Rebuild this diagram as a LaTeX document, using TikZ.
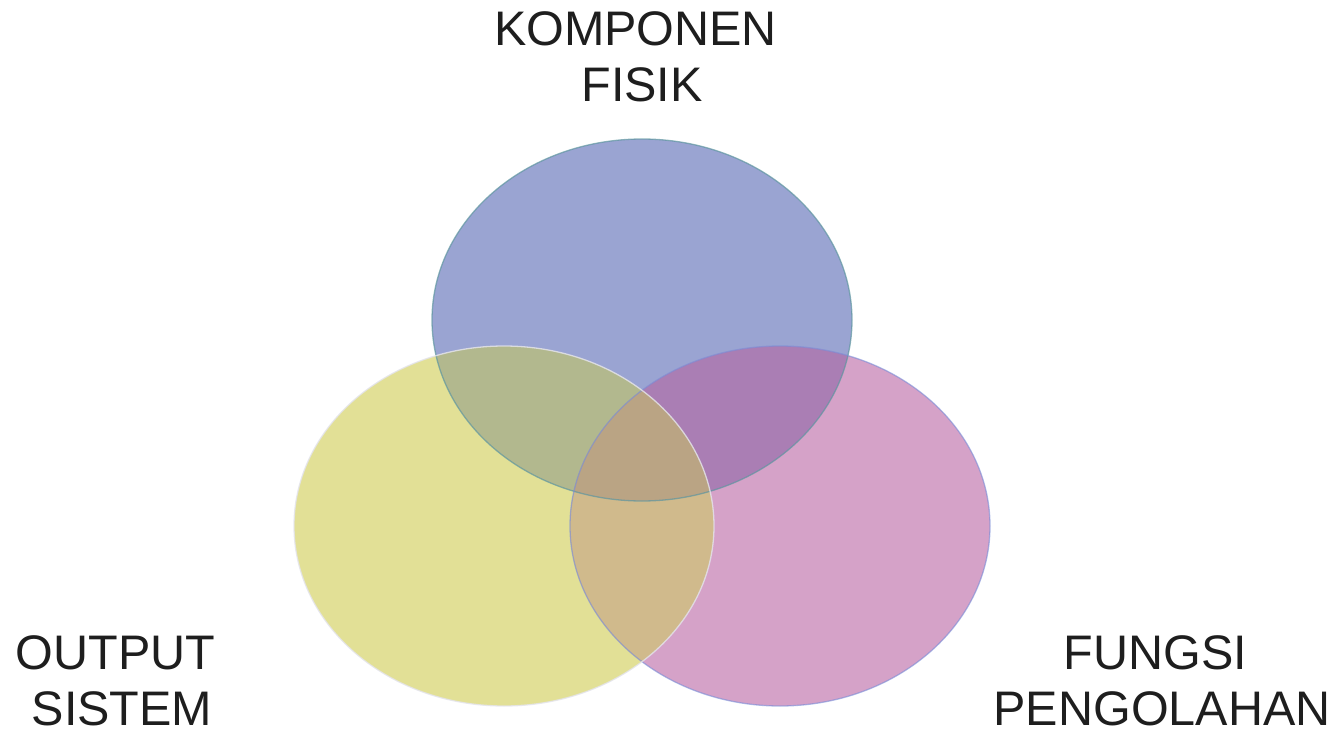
\documentclass[tikz,border=0pt]{standalone}
\usepackage{fontspec}
\setmainfont{Liberation Sans}
\definecolor{cB}{RGB}{154,164,210}
\definecolor{cY}{RGB}{226,224,150}
\definecolor{cP}{RGB}{213,162,200}
\definecolor{cBY}{RGB}{178,184,142}
\definecolor{cBP}{RGB}{170,126,180}
\definecolor{cYP}{RGB}{208,186,140}
\definecolor{cBYP}{RGB}{186,164,132}
\definecolor{eB}{RGB}{95,150,160}
\definecolor{eY}{RGB}{228,228,238}
\definecolor{eP}{RGB}{120,140,215}
\definecolor{txt}{RGB}{30,30,30}
\newcommand\ellTop{(642,320) ellipse [x radius=210pt, y radius=181pt]}
\newcommand\ellLeft{(504,526) ellipse [x radius=210pt, y radius=180pt]}
\newcommand\ellRight{(780,526) ellipse [x radius=210pt, y radius=180pt]}
\tikzset{
  lbl/.style={text=txt, font=\fontsize{48.5}{56}\selectfont, align=center, inner sep=0pt, anchor=north},
  rim/.style={line width=1.3pt}
}
\begin{document}
\begin{tikzpicture}[x=1pt,y=-1pt]
\useasboundingbox (0,0) rectangle (1342,730);
% solid regions
\fill[cB] \ellTop;
\fill[cY] \ellLeft;
\fill[cP] \ellRight;
\begin{scope}
  \clip \ellTop;
  \fill[cBY] \ellLeft;
  \fill[cBP] \ellRight;
\end{scope}
\begin{scope}
  \clip \ellLeft;
  \fill[cYP] \ellRight;
  \clip \ellRight;
  \fill[cBYP] \ellTop;
\end{scope}
% rims
\draw[rim, eB, opacity=0.7] \ellTop;
\draw[rim, eP, opacity=0.6] \ellRight;
\draw[rim, eY, opacity=0.8] \ellLeft;
% labels
\node[lbl] (komp) at (642,11) {KOMPONEN\hspace*{13pt}\\FISIK};
\node[lbl] (out) at (122,635) {OUTPUT\hspace*{13pt}\\SISTEM};
\node[lbl] (fung) at (1162,635) {FUNGSI\hspace*{13pt}\\PENGOLAHAN};
\end{tikzpicture}
\end{document}
